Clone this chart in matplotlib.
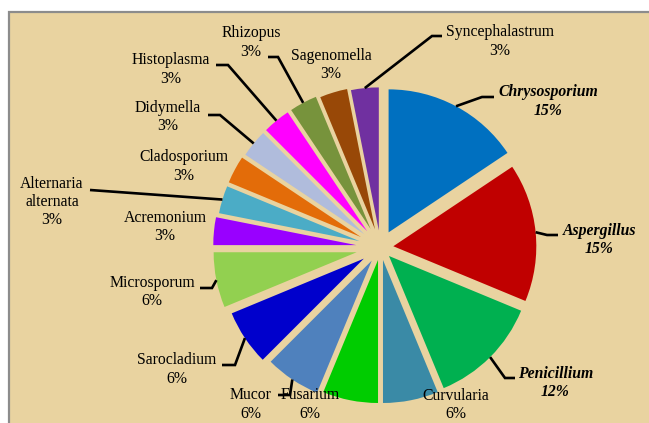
import numpy as np
import matplotlib
matplotlib.use("Agg")
import matplotlib.pyplot as plt
from matplotlib.patches import Rectangle

# slices, clockwise from 12 o'clock
genera = [
    "Chrysosporium", "Aspergillus", "Penicillium", "Curvularia",
    "Fusarium", "Mucor", "Sarocladium", "Microsporum", "Acremonium",
    "Alternaria\nalternata", "Cladosporium", "Didymella", "Histoplasma",
    "Rhizopus", "Sagenomella", "Syncephalastrum",
]
percents = [15, 15, 12, 6, 6, 6, 6, 6, 3, 3, 3, 3, 3, 3, 3, 3]
highlighted = ["Chrysosporium", "Aspergillus", "Penicillium"]

colors = [
    "#0070C0", "#C00000", "#00B050", "#3A8AA6", "#00CC00", "#4F81BD",
    "#0000CC", "#92D050", "#9900FF", "#4BACC6", "#E36C09", "#B0BCDC",
    "#FF00FF", "#77933C", "#984807", "#7030A0",
]
# explosion as a fraction of the radius
explode = [0.12, 0.09, 0.084, 0.089, 0.089, 0.11, 0.14, 0.17, 0.17,
           0.155, 0.155, 0.147, 0.147, 0.147, 0.133, 0.12]

W, H = 649, 423
CX, CY, R = 380.5, 247.5, 143  # pie centre / radius in px (y from top)

# label layout in px from top-left: text centre, then leader bend points
layout = {
    "Chrysosporium": ((548, 101.5), [(482, 97), (494, 97)]),
    "Aspergillus": ((599.5, 240), [(547, 235), (558, 235)]),
    "Penicillium": ((555.5, 383), [(505, 378), (515, 378)]),
    "Curvularia": ((455.5, 405), []),
    "Fusarium": ((310, 404.5), []),
    "Mucor": ((251, 404.5), [(290, 395), (278, 395)]),
    "Sarocladium": ((177, 369.5), [(235, 365), (222, 365)]),
    "Microsporum": ((152, 292), [(212, 288), (200, 288)]),
    "Acremonium": ((165, 227), []),
    "Alternaria\nalternata": ((52, 202), [(90, 190)]),
    "Cladosporium": ((184, 166.5), []),
    "Didymella": ((168, 117), [(220, 115), (208, 115)]),
    "Histoplasma": ((170.5, 69.5), [(228, 65), (216, 65)]),
    "Rhizopus": ((251, 42.5), [(278, 57), (268, 57)]),
    "Sagenomella": ((331, 65), []),
    "Syncephalastrum": ((500, 41.5), [(432, 36), (442, 36)]),
}


def main() -> None:
    plt.rcParams["font.family"] = ["Liberation Serif", "DejaVu Serif"]
    fig = plt.figure(figsize=(W / 100, H / 100), dpi=100)
    fig.patch.set_facecolor("white")
    ax = fig.add_axes([0, 0, 1, 1])

    # papyrus-ish chart area with grey frame (top/left visible)
    ax.add_patch(Rectangle((9, -5), W + 10, H - 12 + 5, facecolor="#E9D3A0",
                           edgecolor="#8C8C8C", linewidth=1.6, zorder=0))

    # pie explode is in data units, so scale by the radius
    wedges, _ = ax.pie(
        percents, colors=colors, startangle=90, counterclock=False,
        explode=[e * R for e in explode], center=(CX, H - CY), radius=R,
        wedgeprops=dict(linewidth=0), frame=False,
    )
    ax.set_xlim(0, W)
    ax.set_ylim(0, H)
    ax.set_aspect("auto")
    ax.set_axis_off()

    for name, pct, w in zip(genera, percents, wedges):
        (tx, ty), bends = layout[name]
        if bends:
            mid = np.deg2rad((w.theta1 + w.theta2) / 2)
            sx = w.center[0] + w.r * np.cos(mid)
            sy = w.center[1] + w.r * np.sin(mid)
            xs = [sx] + [b[0] for b in bends]
            ys = [sy] + [H - b[1] for b in bends]
            ax.plot(xs, ys, color="black", lw=1.9, solid_capstyle="butt",
                    solid_joinstyle="miter", zorder=3)
        bold = name in highlighted
        ax.text(tx, H - ty, f"{name}\n{pct}%", ha="center", va="center",
                fontsize=11.3, linespacing=1.2,
                fontweight="bold" if bold else "normal",
                fontstyle="italic" if bold else "normal", zorder=4)

    fig.savefig("out.png", dpi=100)
    plt.close(fig)


if __name__ == "__main__":
    main()
